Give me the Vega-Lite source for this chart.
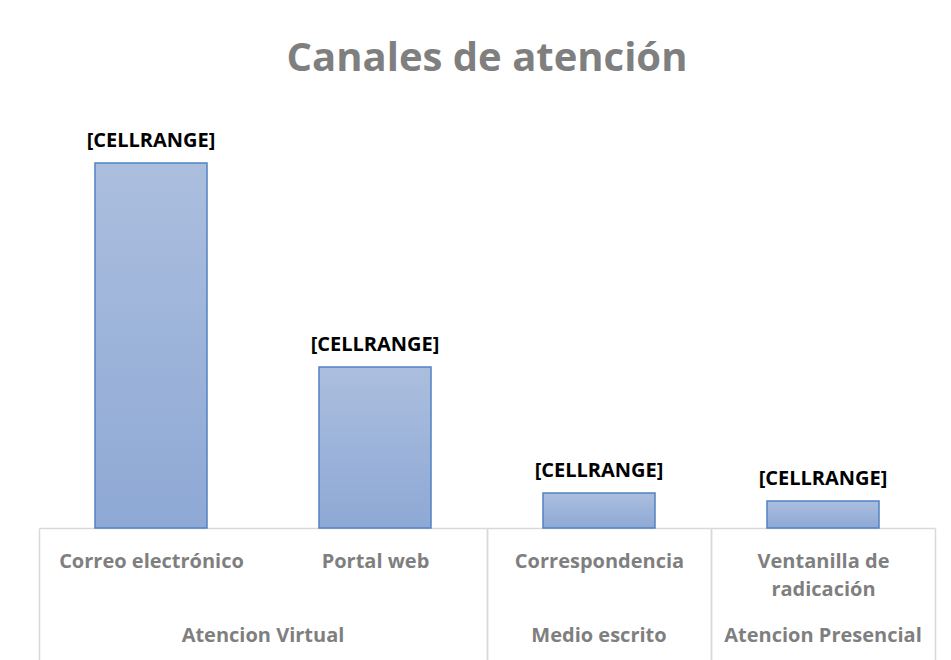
{
  "$schema": "https://vega.github.io/schema/vega-lite/v6.json",
  "padding": {"left": 38, "top": 39, "right": 17, "bottom": 0},
  "background": "#ffffff",
  "title": {
    "text": "Canales de atención",
    "font": "Open Sans",
    "fontSize": 40,
    "fontWeight": "bold",
    "color": "#7f7f7f",
    "anchor": "middle",
    "offset": 49
  },
  "data": {
    "values": [
      {"grupo": "Atencion Virtual", "canal": "Correo electrónico", "valor": 365, "etiqueta": "[CELLRANGE]"},
      {"grupo": "Atencion Virtual", "canal": "Portal web", "valor": 161, "etiqueta": "[CELLRANGE]"},
      {"grupo": "Medio escrito", "canal": "Correspondencia", "valor": 35, "etiqueta": "[CELLRANGE]"},
      {"grupo": "Atencion Presencial", "canal": "Ventanilla de radicación", "valor": 27, "etiqueta": "[CELLRANGE]"}
    ]
  },
  "facet": {
    "column": {
      "field": "grupo",
      "type": "nominal",
      "sort": ["Atencion Virtual", "Medio escrito", "Atencion Presencial"],
      "title": null,
      "header": {
        "labelOrient": "bottom",
        "labelFont": "Open Sans",
        "labelFontSize": 20,
        "labelFontWeight": "bold",
        "labelColor": "#7f7f7f",
        "labelPadding": 98
      }
    }
  },
  "spacing": 0,
  "bounds": "flush",
  "resolve": {"scale": {"x": "independent"}},
  "spec": {
    "width": {"step": 224},
    "height": 400,
    "encoding": {
      "x": {
        "field": "canal",
        "type": "nominal",
        "sort": ["Correo electrónico", "Portal web", "Correspondencia", "Ventanilla de radicación"],
        "scale": {"paddingInner": 0, "paddingOuter": 0},
        "axis": {
          "title": null,
          "domainColor": "#d9d9d9",
          "domainWidth": 1.5,
          "tickBand": "extent",
          "tickSize": 140,
          "tickColor": "#d9d9d9",
          "tickWidth": 1.5,
          "tickOpacity": {"condition": {"test": "datum.value === 'Correo electrónico'", "value": 0}, "value": 1},
          "labelAngle": 0,
          "labelFont": "Open Sans",
          "labelFontSize": 20,
          "labelFontWeight": "bold",
          "labelColor": "#7f7f7f",
          "labelPadding": -117,
          "labelLimit": 0,
          "labelLineHeight": 28,
          "labelExpr": "datum.label === 'Ventanilla de radicación' ? ['Ventanilla de', 'radicación'] : datum.label",
          "maxExtent": 80
        }
      },
      "y": {
        "field": "valor",
        "type": "quantitative",
        "scale": {"domain": [0, 400]},
        "axis": null
      }
    },
    "layer": [
      {
        "mark": {
          "type": "bar",
          "width": {"band": 0.5},
          "stroke": "#5182c2",
          "strokeWidth": 1.5,
          "color": {
            "gradient": "linear",
            "x1": 0, "y1": 0, "x2": 0, "y2": 1,
            "stops": [
              {"offset": 0, "color": "#abbede"},
              {"offset": 1, "color": "#8ea9d5"}
            ]
          }
        }
      },
      {
        "mark": {
          "type": "text",
          "font": "Open Sans",
          "fontSize": 20,
          "fontWeight": "bold",
          "color": "#000000",
          "baseline": "alphabetic",
          "dy": -16
        },
        "encoding": {"text": {"field": "etiqueta"}}
      }
    ]
  },
  "config": {
    "view": {"stroke": null}
  }
}
